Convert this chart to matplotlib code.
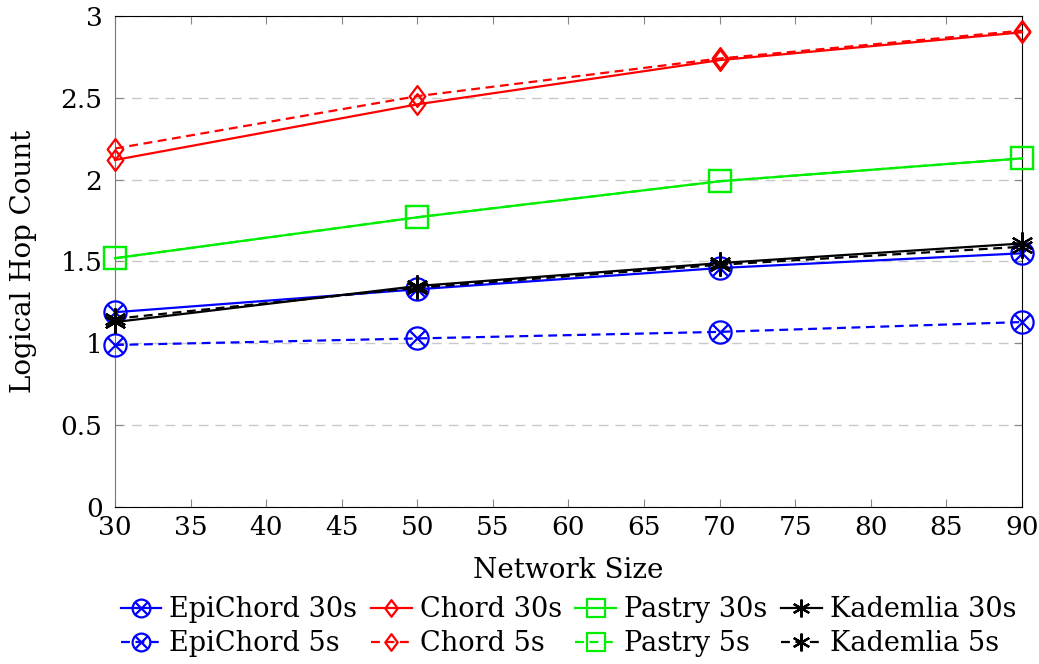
import matplotlib.pyplot as plt
import matplotlib.path as mpath

plt.rcParams['font.family'] = ['DejaVu Serif']

sizes = [30, 50, 70, 90]

epichord_30 = [1.19, 1.33, 1.46, 1.55]
epichord_5 = [0.99, 1.03, 1.07, 1.13]
chord_30 = [2.12, 2.46, 2.73, 2.90]
chord_5 = [2.19, 2.51, 2.74, 2.91]
pastry_30 = [1.52, 1.77, 1.99, 2.13]
pastry_5 = [1.52, 1.77, 1.99, 2.13]
kademlia_30 = [1.13, 1.35, 1.49, 1.61]
kademlia_5 = [1.15, 1.34, 1.48, 1.59]

# circle with a cross, like pgfplots "otimes"
d = 0.7071
otimes = mpath.Path.make_compound_path(
    mpath.Path.unit_circle(),
    mpath.Path([(-d, -d), (d, d)]),
    mpath.Path([(-d, d), (d, -d)]))
# pgfplots diamond is a bit wider than matplotlib's thin diamond
diamond = mpath.Path([(0, 1), (0.75, 0), (0, -1), (-0.75, 0), (0, 1)],
                     closed=True)

fig = plt.figure(figsize=(10.39, 6.64), dpi=100)
ax = fig.add_axes([0.1107, 0.2364, 0.8729, 0.7396])

dash = (0, (4, 2.5))
series = [
    ('EpiChord 30s', epichord_30, 'blue', '-', otimes, 16),
    ('EpiChord 5s', epichord_5, 'blue', dash, otimes, 16),
    ('Chord 30s', chord_30, 'red', '-', diamond, 15),
    ('Chord 5s', chord_5, 'red', dash, diamond, 15),
    ('Pastry 30s', pastry_30, '#00ee00', '-', 's', 16),
    ('Pastry 5s', pastry_5, '#00ee00', dash, 's', 16),
    ('Kademlia 30s', kademlia_30, 'black', '-', (6, 2, 0), 16),
    ('Kademlia 5s', kademlia_5, 'black', dash, (6, 2, 0), 16),
]

for label, vals, col, ls, mk, ms in series:
    ax.plot(sizes, vals, color=col, linestyle=ls, linewidth=1.6, marker=mk,
            markersize=ms, markerfacecolor='none', markeredgecolor=col,
            markeredgewidth=1.6, label=label, clip_on=False, zorder=3)

ax.set_xlim(30, 90)
ax.set_ylim(0, 3)
ax.set_xticks(range(30, 91, 5))
ax.set_yticks([0, 0.5, 1, 1.5, 2, 2.5, 3])
ax.set_yticklabels(['0', '0.5', '1', '1.5', '2', '2.5', '3'])
ax.yaxis.grid(True, linestyle=(0, (7, 5)), color='#c8c8c8', linewidth=1)
ax.tick_params(direction='in', labelsize=19, length=6, color='#888888',
               top=True, right=True)
ax.tick_params(axis='y', pad=9)
ax.tick_params(axis='x', pad=6)
ax.spines['left'].set_color('#777777')

ax.set_xlabel('Network Size', fontsize=20, labelpad=12)
ax.set_ylabel('Logical Hop Count', fontsize=20, labelpad=17)

ax.legend(loc='upper center', bbox_to_anchor=(0.5, -0.16), ncol=4,
          frameon=False, fontsize=19.5, handlelength=1.5, handletextpad=0.3,
          columnspacing=0.5, labelspacing=0.25, borderaxespad=0,
          markerscale=0.8)

fig.savefig('out.png', dpi=100)
